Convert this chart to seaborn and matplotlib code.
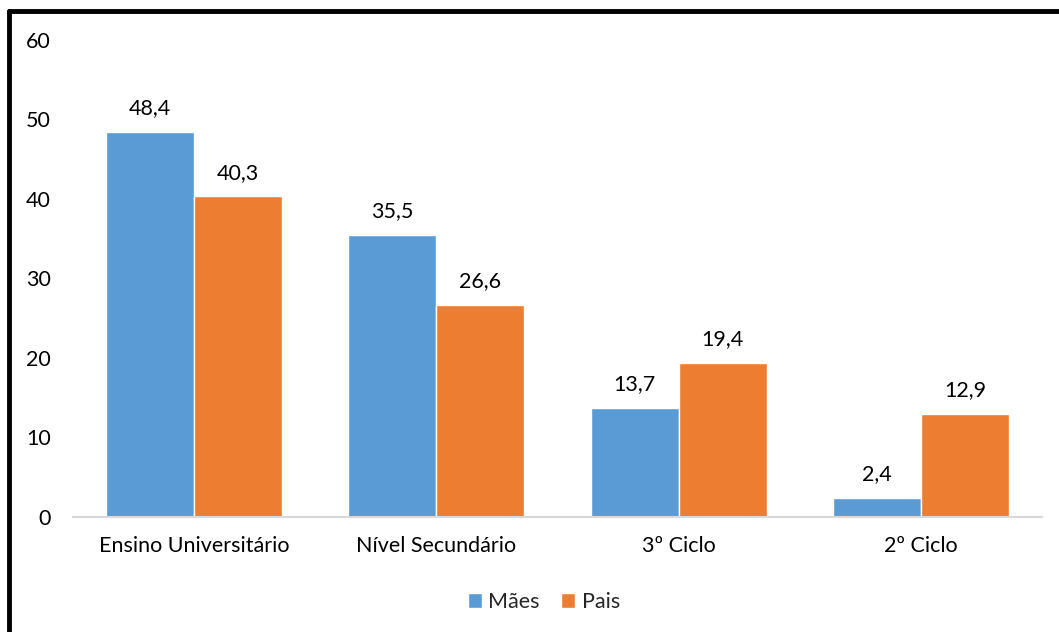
import pandas as pd
import matplotlib.pyplot as plt
import matplotlib.lines as mlines
import seaborn as sns

# dados
categorias = ["Ensino Universitário", "Nível Secundário", "3º Ciclo", "2º Ciclo"]
maes = [48.4, 35.5, 13.7, 2.4]
pais = [40.3, 26.6, 19.4, 12.9]
series = ["Mães", "Pais"]
cores = ["#5B9BD5", "#ED7D31"]

df = pd.DataFrame({
    "Nível": categorias * 2,
    "Valor": maes + pais,
    "Grupo": [series[0]] * len(maes) + [series[1]] * len(pais),
})

sns.set_style("white")
plt.rcParams["font.family"] = ["Lato", "DejaVu Sans"]
fs = 15.5

fig = plt.figure(figsize=(10.59, 6.32), dpi=100)
ax = fig.add_axes([0.069, 0.182, 0.915, 0.755])

sns.barplot(data=df, x="Nível", y="Valor", hue="Grupo", palette=cores,
            width=0.727, saturation=1, errorbar=None, ax=ax)

for cont in ax.containers:
    ax.bar_label(cont, labels=[f"{v:.1f}".replace(".", ",") for v in cont.datavalues],
                 padding=10, fontsize=fs, color="#000000")

ax.set_ylim(0, 60)
ax.set_xlim(-0.5, 3.5)
ax.set_yticks(range(0, 61, 10))
ax.set_xlabel("")
ax.set_ylabel("")
ax.tick_params(axis="both", labelsize=fs, colors="#000000", length=0)
ax.tick_params(axis="y", pad=16)
ax.tick_params(axis="x", pad=14)
for s in ["top", "right", "left"]:
    ax.spines[s].set_visible(False)
ax.spines["bottom"].set_color("#D9D9D9")
ax.spines["bottom"].set_linewidth(1.5)

ax.legend(loc="center", bbox_to_anchor=(0.486, -0.178), ncol=2, frameon=False,
          fontsize=fs, handlelength=0.65, handleheight=0.65, handletextpad=0.3,
          columnspacing=1.0)

# moldura (só topo e esquerda visíveis)
fig.add_artist(mlines.Line2D([0.0082, 1.0], [0.982, 0.982], color="black", lw=3.5,
                             transform=fig.transFigure))
fig.add_artist(mlines.Line2D([0.0082, 0.0082], [0.0, 0.982], color="black", lw=3.5,
                             transform=fig.transFigure))

fig.savefig("out.png", dpi=100)
